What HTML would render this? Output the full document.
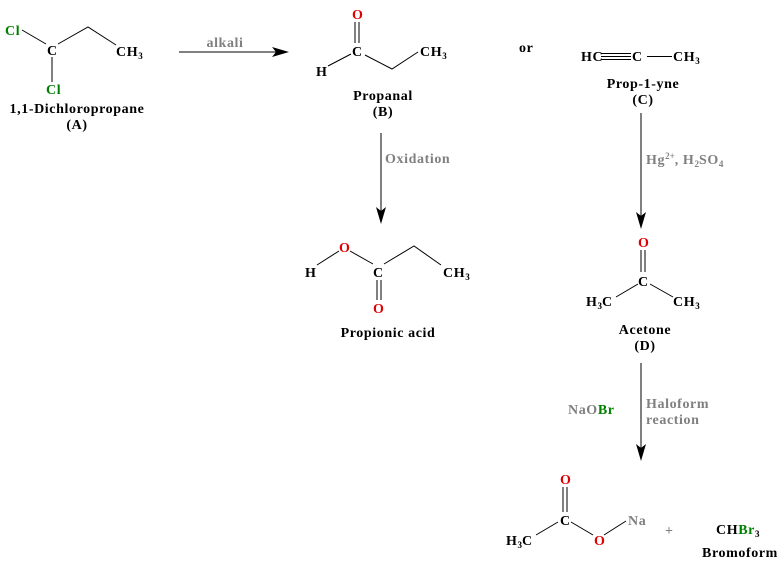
<!DOCTYPE html>
<html><head><meta charset="utf-8"><style>
html,body{margin:0;padding:0;background:#fff;}
svg{display:block;}
text{font-family:"Liberation Serif",serif;font-weight:bold;font-size:14px;letter-spacing:0.6px;fill:#000;}
.g{fill:#808080;}
.r{fill:#e00000;}
.gr{fill:#008000;}
.s{font-size:9px;letter-spacing:0;}
line,polyline{stroke:#000;stroke-width:1;fill:none;}
</style></head><body>
<svg width="782" height="564" viewBox="0 0 782 564" xmlns="http://www.w3.org/2000/svg">
<!-- A -->
<text x="5" y="35" class="gr">Cl</text>
<text x="47" y="55">C</text>
<text x="116" y="56">CH<tspan class="s" dy="3">3</tspan></text>
<text x="46" y="94" class="gr">Cl</text>
<line x1="22" y1="30" x2="46" y2="44"/>
<polyline points="58,44 88,27 116,45"/>
<line x1="52" y1="57" x2="52" y2="82"/>
<text x="77" y="113" text-anchor="middle">1,1-Dichloropropane</text>
<text x="77" y="129" text-anchor="middle">(A)</text>
<!-- alkali arrow -->
<line x1="179" y1="52" x2="280" y2="52"/>
<polygon points="272,47 289,52 272,57 276,52" fill="#000"/>
<text x="225" y="47" text-anchor="middle" class="g">alkali</text>
<!-- B -->
<text x="352" y="19" class="r">O</text>
<line x1="355" y1="22" x2="355" y2="43"/>
<line x1="359" y1="22" x2="359" y2="43"/>
<text x="352" y="56">C</text>
<text x="316" y="76">H</text>
<text x="420" y="56">CH<tspan class="s" dy="3">3</tspan></text>
<line x1="328" y1="66" x2="351" y2="54"/>
<polyline points="365,55 392,69 418,52"/>
<text x="383" y="100" text-anchor="middle">Propanal</text>
<text x="383" y="116" text-anchor="middle">(B)</text>
<!-- oxidation arrow -->
<line x1="381" y1="133" x2="381" y2="215"/>
<polygon points="376,207 381,224 386,207 381,211" fill="#000"/>
<text x="385" y="163" class="g">Oxidation</text>
<!-- propionic acid -->
<text x="339" y="252" class="r">O</text>
<text x="305" y="277">H</text>
<text x="373" y="277">C</text>
<text x="443" y="277">CH<tspan class="s" dy="3">3</tspan></text>
<text x="373" y="313" class="r">O</text>
<line x1="317" y1="265" x2="339" y2="251"/>
<line x1="350" y1="251" x2="373" y2="264"/>
<polyline points="384,264 414,246 441,265"/>
<line x1="377" y1="280" x2="377" y2="300"/>
<line x1="381" y1="280" x2="381" y2="300"/>
<text x="388" y="337" text-anchor="middle">Propionic acid</text>
<!-- or -->
<text x="519" y="52">or</text>
<!-- C -->
<text x="581" y="61">HC</text>
<line x1="601" y1="53.5" x2="631" y2="53.5"/>
<line x1="601" y1="56.5" x2="631" y2="56.5"/>
<line x1="601" y1="59.5" x2="631" y2="59.5"/>
<text x="632" y="61">C</text>
<line x1="647" y1="56.5" x2="672" y2="56.5"/>
<text x="673" y="61">CH<tspan class="s" dy="3">3</tspan></text>
<text x="643" y="88" text-anchor="middle">Prop-1-yne</text>
<text x="643" y="104" text-anchor="middle">(C)</text>
<!-- Hg arrow -->
<line x1="641" y1="113" x2="641" y2="220"/>
<polygon points="636,212 641,229 646,212 641,216" fill="#000"/>
<text x="646" y="164" class="g">Hg<tspan class="s" dy="-5">2+</tspan><tspan dy="5">, H</tspan><tspan class="s" dy="3">2</tspan><tspan dy="-3">SO</tspan><tspan class="s" dy="3">4</tspan></text>
<!-- D -->
<text x="638" y="247" class="r">O</text>
<line x1="641" y1="250" x2="641" y2="272"/>
<line x1="645" y1="250" x2="645" y2="272"/>
<text x="638" y="286">C</text>
<text x="586" y="306">H<tspan class="s" dy="3">3</tspan><tspan dy="-3">C</tspan></text>
<text x="673" y="306">CH<tspan class="s" dy="3">3</tspan></text>
<line x1="616" y1="297" x2="638" y2="284"/>
<line x1="650" y1="284" x2="673" y2="297"/>
<text x="645" y="334" text-anchor="middle">Acetone</text>
<text x="645" y="350" text-anchor="middle">(D)</text>
<!-- haloform arrow -->
<line x1="641" y1="363" x2="641" y2="452"/>
<polygon points="636,444 641,461 646,444 641,448" fill="#000"/>
<text x="568" y="414" class="g">NaO<tspan class="gr">Br</tspan></text>
<text x="646" y="408" class="g">Haloform</text>
<text x="646" y="424" class="g">reaction</text>
<!-- acetate -->
<text x="560" y="484" class="r">O</text>
<line x1="563" y1="487" x2="563" y2="512"/>
<line x1="567" y1="487" x2="567" y2="512"/>
<text x="560" y="525">C</text>
<text x="506" y="545">H<tspan class="s" dy="3">3</tspan><tspan dy="-3">C</tspan></text>
<text x="594" y="545" class="r">O</text>
<text x="628" y="525" class="g">Na</text>
<line x1="536" y1="535" x2="558" y2="522"/>
<line x1="571" y1="522" x2="593" y2="535"/>
<line x1="604" y1="535" x2="626" y2="521"/>
<text x="665" y="535" class="g">+</text>
<text x="716" y="534">CH<tspan class="gr">Br</tspan><tspan class="s" dy="3">3</tspan></text>
<text x="740" y="557" text-anchor="middle">Bromoform</text>
</svg>
</body></html>
